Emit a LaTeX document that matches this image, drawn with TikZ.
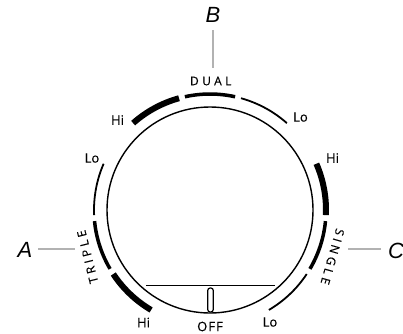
\documentclass[tikz,border=0pt]{standalone}
\usepackage{fontspec}
\setmainfont[FakeBold=0.3]{Open Sans}
\newfontfamily\lblfont[FakeBold=0.3]{Open Sans}
\newfontfamily\grpfont[LetterSpace=28,FakeBold=0.3]{Open Sans}
\newfontfamily\offfont[LetterSpace=8,FakeBold=0.3]{Open Sans}
\newfontfamily\letfont{Liberation Sans}
\begin{document}
\begin{tikzpicture}[x=1pt,y=1pt,
  hiseg/.style={line width=6pt,line cap=butt},
  midseg/.style={line width=3.5pt,line cap=butt},
  loseg/.style={line width=1.8pt,line cap=butt},
  lbl/.style={inner sep=0pt,font=\lblfont\fontsize{13}{14}\selectfont},
  offlbl/.style={inner sep=0pt,font=\offfont\fontsize{13}{14}\selectfont},
  grp/.style={inner sep=0pt,font=\grpfont\fontsize{12}{13}\selectfont},
  big/.style={inner sep=0pt,font=\letfont\itshape\fontsize{22}{24}\selectfont},
  leader/.style={draw=black!30,line width=1.9pt}]
\useasboundingbox (0,0) rectangle (403,333);
\coordinate (O) at (210,123);
% inner dial
\draw[line width=1.4pt] (O) circle[radius=103];
% ring segments
\newcommand\ringseg[3]{\draw[#1] ([shift={(#2:116)}]O) arc[start angle=#2,end angle=#3,radius=116];}
% top group (centre 90)
\ringseg{hiseg}{105.5}{131.5}
\ringseg{midseg}{77.5}{102.5}
\ringseg{loseg}{48.5}{74.5}
% left group (centre 198)
\ringseg{loseg}{156.5}{182.5}
\ringseg{midseg}{185.5}{210.5}
\ringseg{hiseg}{213.5}{239.5}
% right group (centre -18)
\ringseg{hiseg}{-2.5}{23.5}
\ringseg{midseg}{-30.5}{-5.5}
\ringseg{loseg}{-59.5}{-33.5}
% bottom chord and off marker
\coordinate (chL) at (146,47.3);
\coordinate (chR) at (275,47.3);
\draw[line width=1.3pt] (chL) -- (chR);
\node[draw,line width=1.2pt,fill=white,rounded corners=2.4pt,minimum width=5.5pt,minimum height=24pt,inner sep=0pt] (offmark) at (210.5,33) {};
% labels
\node[lbl] (hiTL) at (117.5,213) {Hi};
\node[lbl] (loTR) at (300.5,216) {Lo};
\node[lbl] (loL) at (92,175) {Lo};
\node[lbl] (hiR) at (332.5,175) {Hi};
\node[lbl] (hiBL) at (143.5,10.5) {Hi};
\node[offlbl] (off) at (209.5,6.5) {OFF\kern-1pt};
\node[lbl] (loBR) at (270,11) {Lo};
\node[grp] (dual) at (209,252) {DUAL\kern-3.4pt};
\node[grp,rotate=104] (triple) at (88,74.5) {TRIPLE\kern-3.4pt};
\node[grp,rotate=-106] (single) at (333,78) {SINGLE\kern-3.4pt};
% callouts
\node[big] (B) at (213,318) {B};
\coordinate (Bt) at (213,303);
\coordinate (Bb) at (213,265);
\draw[leader] (Bt) -- (Bb);
\node[big] (A) at (25,83.5) {A};
\coordinate (Al) at (38,83.7);
\coordinate (Ar) at (75,83.7);
\draw[leader] (Al) -- (Ar);
\node[big] (C) at (396,82) {C};
\coordinate (Cl) at (348,83.7);
\coordinate (Cr) at (381,83.7);
\draw[leader] (Cl) -- (Cr);
\end{tikzpicture}
\end{document}
